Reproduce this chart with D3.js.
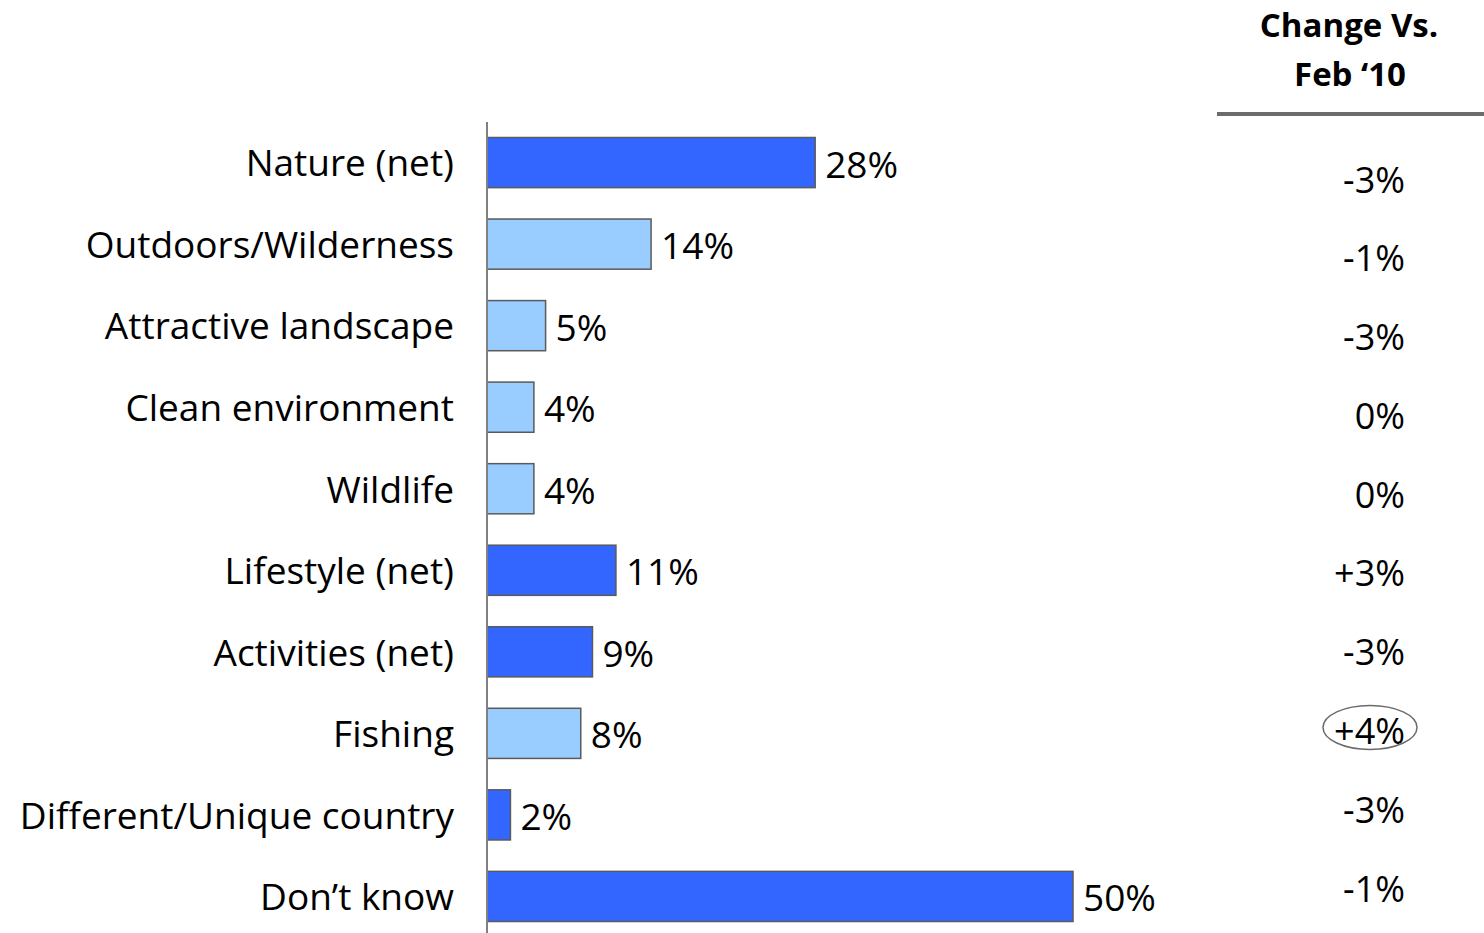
<!DOCTYPE html>
<html>
<head>
<meta charset="utf-8">
<script src="https://cdn.jsdelivr.net/npm/d3@7"></script>
<style>
  body { margin: 0; background: #fff; }
  text { font-family: "Open Sans", sans-serif; fill: #000; }
</style>
</head>
<body>
<div id="chart"></div>
<script>
// Chart data
const categories = [
  'Nature (net)', 'Outdoors/Wilderness', 'Attractive landscape', 'Clean environment',
  'Wildlife', 'Lifestyle (net)', 'Activities (net)', 'Fishing',
  'Different/Unique country', 'Don\u2019t know'
];
const values = [28, 14, 5, 4, 4, 11, 9, 8, 2, 50];
const isNet = [true, false, false, false, false, true, true, false, true, true];
const changes = ['-3%', '-1%', '-3%', '0%', '0%', '+3%', '-3%', '+4%', '-3%', '-1%'];
const circled = ['Fishing'];

const width = 1484;
const height = 933;

const svg = d3.select('#chart')
  .append('svg')
  .attr('width', width)
  .attr('height', height);

// Scales
const xScale = d3.scaleLinear().domain([0, 50]).range([487, 1073]);
const yScale = d3.scaleBand().domain(categories).range([122, 937]).paddingInner(0.385).paddingOuter(0.19);
const changeScale = d3.scalePoint().domain(categories).range([180, 889]);

// Category labels (left axis)
const yAxis = d3.axisLeft(yScale).tickSize(0).tickPadding(33);
const axisG = svg.append('g').attr('transform', `translate(${xScale(0)},2)`).call(yAxis);
axisG.select('.domain').remove();
axisG.selectAll('text')
  .style('font-family', '"Open Sans", sans-serif')
  .style('font-size', '37px')
  .attr('fill', '#000');

// Bars
svg.selectAll('.bar')
  .data(categories)
  .enter()
  .append('rect')
  .attr('class', 'bar')
  .attr('x', xScale(0))
  .attr('y', (d) => yScale(d))
  .attr('width', (d, i) => xScale(values[i]) - xScale(0))
  .attr('height', yScale.bandwidth())
  .attr('fill', (d, i) => (isNet[i] ? '#3366FF' : '#99CCFF'))
  .attr('stroke', '#5a5a5a')
  .attr('stroke-width', 1.5);

// Vertical axis line
svg.append('line')
  .attr('x1', xScale(0)).attr('x2', xScale(0))
  .attr('y1', 122).attr('y2', height)
  .attr('stroke', '#808080')
  .attr('stroke-width', 2);

// Value labels
svg.selectAll('.val')
  .data(categories)
  .enter()
  .append('text')
  .attr('class', 'val')
  .attr('x', (d, i) => xScale(values[i]) + 10)
  .attr('y', (d) => yScale(d) + yScale.bandwidth() / 2 + 2)
  .attr('dy', '0.35em')
  .style('font-size', '37px')
  .text((d, i) => values[i] + '%');

// Change column header
svg.append('text')
  .attr('x', 1349).attr('y', 37)
  .attr('text-anchor', 'middle')
  .style('font-size', '33px').style('font-weight', 'bold')
  .text('Change Vs.');
svg.append('text')
  .attr('x', 1350).attr('y', 86)
  .attr('text-anchor', 'middle')
  .style('font-size', '33px').style('font-weight', 'bold')
  .text('Feb \u201810');
svg.append('line')
  .attr('x1', 1217).attr('x2', width)
  .attr('y1', 114).attr('y2', 114)
  .attr('stroke', '#6b6b6b')
  .attr('stroke-width', 4);

// Change values
svg.selectAll('.chg')
  .data(categories)
  .enter()
  .append('text')
  .attr('class', 'chg')
  .attr('x', 1405)
  .attr('y', (d) => changeScale(d))
  .attr('dy', '0.35em')
  .attr('text-anchor', 'end')
  .style('font-size', '36px')
  .text((d, i) => changes[i]);

// Ellipse round the highlighted change
svg.selectAll('.ring')
  .data(circled)
  .enter()
  .append('ellipse')
  .attr('class', 'ring')
  .attr('cx', 1370)
  .attr('cy', (d) => changeScale(d) - 4)
  .attr('rx', 47)
  .attr('ry', 22)
  .attr('fill', 'none')
  .attr('stroke', '#6b6b6b')
  .attr('stroke-width', 1.5);
</script>
</body>
</html>
